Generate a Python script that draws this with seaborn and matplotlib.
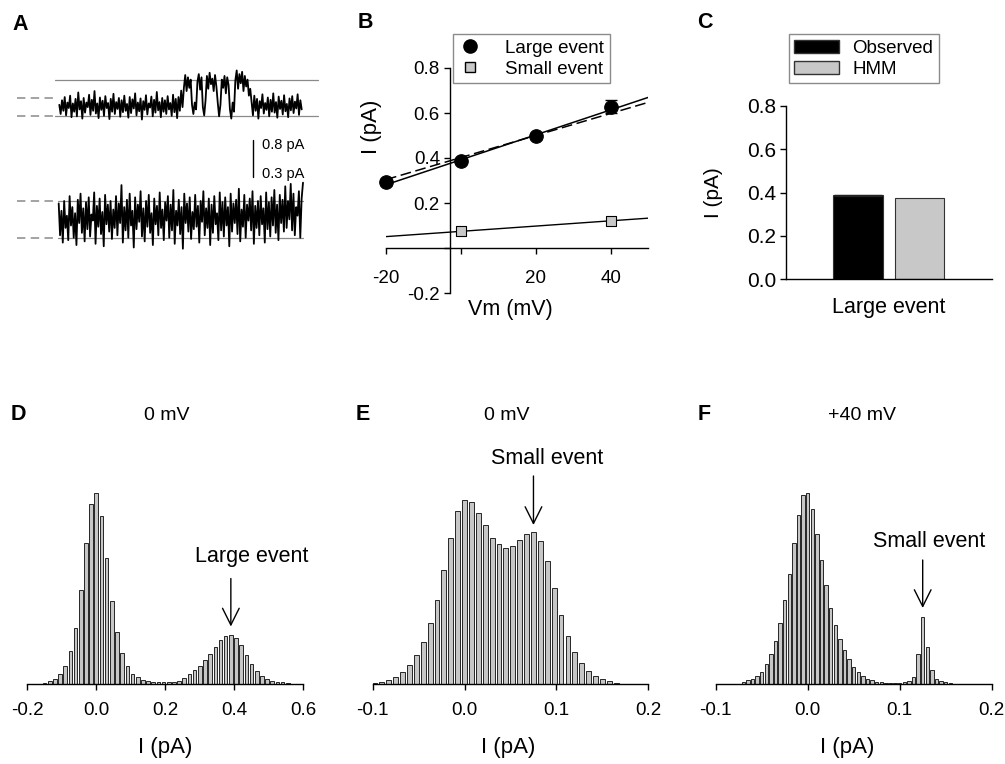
import numpy as np
import pandas as pd
import matplotlib
matplotlib.use("Agg")
import matplotlib.pyplot as plt
import seaborn as sns
from matplotlib.lines import Line2D
from matplotlib.patches import Patch

# ---------------- data ----------------
# Panel A: single-channel current traces (pA), one sample per value
trace_top = [
    0.25, 0.05, 0.35, 0.12, 0.42, 0.02, 0.30, 0.18, 0.45, -0.02, 0.28, 0.10, 0.38, 0.00, 0.52, 0.15, 0.33, -0.05, 0.40, 0.08,
    0.30, 0.20, 0.47, 0.03, 0.36, 0.12, 0.55, 0.06, 0.28, -0.04, 0.41, 0.14, 0.34, 0.01, 0.44, 0.18, 0.29, -0.06, 0.38, 0.10,
    0.49, 0.05, 0.31, 0.16, 0.40, -0.01, 0.35, 0.09, 0.45, 0.12, 0.27, -0.03, 0.42, 0.07, 0.37, 0.17, 0.50, 0.02, 0.30, 0.11,
    0.39, -0.07, 0.33, 0.14, 0.46, 0.04, 0.28, 0.19, 0.43, 0.00, 0.36, 0.08, 0.53, 0.13, 0.31, -0.02, 0.40, 0.10, 0.35, 0.05,
    0.44, 0.15, 0.29, 0.01, 0.47, 0.09, 0.38, -0.04, 0.42, 0.12, 0.56, 0.20, 0.62,
    0.90, 0.55, 0.85, 0.62, 0.80,
    0.25, 0.05, 0.30, 0.15,
    0.75, 0.92, 0.58, 0.85,
    0.20, 0.02, 0.35,
    0.88, 0.60, 0.95, 0.70, 0.82, 0.55, 0.90, 0.65,
    0.30, 0.00, 0.25,
    0.80, 0.62, 0.88, 0.50, 0.85, 0.68,
    0.15, -0.05, 0.30, 0.10,
    0.78, 1.00, 0.60, 0.92, 0.72, 0.97, 0.55, 0.88, 0.65, 0.80,
    0.45, 0.60,
    0.30, 0.02, 0.45, 0.12, 0.38, -0.05, 0.33, 0.18, 0.48, 0.06, 0.29, 0.14, 0.41, 0.00, 0.36, 0.10, 0.50, 0.08, 0.31, -0.03,
    0.43, 0.16, 0.34, 0.04, 0.46, 0.11, 0.27, -0.02, 0.39, 0.13, 0.44, 0.07, 0.32, 0.17, 0.48, 0.03, 0.35, 0.15,
]
trace_bottom = [
    0.28, 0.02, 0.22, -0.04, 0.30, 0.08, 0.18, -0.02, 0.34, 0.10, 0.25, 0.00, 0.20, -0.06, 0.31, 0.12, 0.36, 0.04, 0.24, -0.03,
    0.29, 0.07, 0.33, 0.01, 0.19, 0.14, 0.37, -0.05, 0.26, 0.09, 0.32, 0.03, 0.21, -0.07, 0.35, 0.11, 0.27, 0.05, 0.30, -0.01,
    0.23, 0.08, 0.34, 0.02, 0.28, 0.12, 0.43, -0.04, 0.25, 0.06, 0.31, 0.00, 0.36, 0.10, 0.22, -0.08, 0.33, 0.07, 0.27, 0.13,
    0.38, 0.01, 0.24, -0.03, 0.30, 0.09, 0.35, 0.04, 0.20, -0.06, 0.32, 0.11, 0.26, 0.02, 0.37, 0.08, 0.23, -0.02, 0.29, 0.14,
    0.34, 0.00, 0.27, 0.06, 0.39, -0.05, 0.22, 0.10, 0.31, 0.03, 0.25, -0.09, 0.36, 0.12, 0.28, 0.05, 0.33, -0.01, 0.21, 0.07,
    0.35, 0.09, 0.26, -0.04, 0.30, 0.13, 0.38, 0.02, 0.24, 0.08, 0.32, -0.06, 0.27, 0.04, 0.34, 0.11, 0.20, -0.02, 0.37, 0.06,
    0.29, 0.01, 0.33, 0.10, 0.25, -0.07, 0.36, 0.05, 0.28, 0.12, 0.31, 0.03, 0.40, -0.03, 0.23, 0.09, 0.35, 0.00, 0.27, 0.14,
    0.32, 0.06, 0.38, -0.05, 0.26, 0.08, 0.30, 0.02, 0.34, 0.11, 0.24, -0.04, 0.37, 0.07, 0.29, 0.01, 0.33, 0.10, 0.39, 0.04,
    0.27, -0.02, 0.35, 0.12, 0.31, 0.05, 0.42, 0.08, 0.30, 0.15, 0.44, 0.06, 0.36, 0.02, 0.25, 0.18, 0.38, 0.00, 0.32, 0.45,
]
top_levels = [0.0, 0.4, 0.8]
bottom_levels = [0.0, 0.3]
scale_labels = ["0.8 pA", "0.3 pA"]

# Panel B: I-V relation
vm_large = [-20, 0, 20, 40]
i_large = [0.292, 0.386, 0.496, 0.628]
sem_large = [0.010, 0.010, 0.012, 0.030]
vm_small = [0, 40]
i_small = [0.076, 0.120]
fit_range = [-20, 50]
fit_large_solid = (0.392, 0.00554)   # intercept, slope
fit_large_dashed = (0.402, 0.00490)
fit_small = (0.074, 0.00117)

# Panel C
c_groups = ["Observed", "HMM"]
c_category = "Large event"
c_values = [0.388, 0.375]
c_errors = [0.003, 0.0]

# Panels D-F: amplitude histograms (relative counts)
d_first_center, d_bin = -0.15, 0.015
d_counts = [1, 2.3, 5, 9.7, 17.7, 32.7, 56, 94, 141, 180,
            191, 168, 125.7, 83, 51.7, 30.3, 17.7, 10, 6.3, 4,
            2.3, 2, 1.7, 1.7, 1.7, 2, 3, 5.7, 9.7, 13.3,
            18, 23.7, 30, 37, 43.3, 47.3, 48.3, 46, 39, 29,
            19.5, 12.5, 8, 5, 3, 2, 1.3, 0.7]
e_first_center, e_bin = -0.0975, 0.0075
e_counts = [1, 2, 4, 7, 12, 19, 28.7, 42, 60.3, 84, 114, 145.7, 172.3,
            183.7, 181.3, 170.7, 158.3, 146, 139.3, 136, 137.7, 143.3, 149.3, 151.3,
            142.7, 122.7, 95.3, 69, 48, 31.7, 20.3, 13, 7.7, 4.3, 2.3, 1]
f_first_center, f_bin = -0.07, 0.005
f_counts = [2, 3.3, 5, 7.7, 11.7, 19.3, 29.3, 43, 61, 83.3, 110, 140.3, 168.7, 188.3,
            190.3, 175, 150, 123.3, 99, 76, 59, 44.3, 33.3, 24.3, 16.8, 11.5, 8, 5,
            3.3, 2, 1.3, 1, 1, 1, 1, 1.3, 2.3, 6.7, 29.7, 66.7, 36.3, 13.3, 5, 2.3, 1.3, 0.7]

hist_titles = ["0 mV", "0 mV", "+40 mV"]
hist_ticks = [[-0.2, 0.0, 0.2, 0.4, 0.6], [-0.1, 0.0, 0.1, 0.2], [-0.1, 0.0, 0.1, 0.2]]
hist_notes = ["Large event", "Small event", "Small event"]
hist_note_x = [0.39, 0.075, 0.125]

# ---------------- style ----------------
sns.set_style("white")
plt.rcParams["font.family"] = ["Liberation Sans", "DejaVu Sans"]
plt.rcParams["axes.unicode_minus"] = False
for k in ("text.color", "axes.labelcolor", "xtick.color", "ytick.color", "axes.edgecolor"):
    plt.rcParams[k] = "black"

W, H = 1005, 764
fig = plt.figure(figsize=(W / 100, H / 100), dpi=100)


def box(l, t, r, b):
    return fig.add_axes([l / W, 1 - b / H, (r - l) / W, (b - t) / H])


def ftext(x, y, s, **kw):
    fig.text(x / W, 1 - y / H, s, **kw)


GRAY_LINE = "#8a8a8a"

# ---------------- Panel A ----------------
def trace_axes(values, l, t, r, b, x0px, x1px, zero_px, pa_per_px, dash_end_px,
               dashed_levels, solid_levels, solid_end_px):
    ax = box(l, t, r, b)
    n = len(values)
    pps = (x1px - x0px) / (n - 1)
    ax.set_xlim((l - x0px) / pps, (r - x0px) / pps)
    ax.set_ylim(-(b - zero_px) * pa_per_px, (zero_px - t) * pa_per_px)
    xs = (dash_end_px - x0px) / pps
    xe = (solid_end_px - x0px) / pps
    x_left = (l + 3 - x0px) / pps
    for lv in dashed_levels:
        ax.plot([x_left, xs], [lv, lv], color=GRAY_LINE, lw=1.1, ls=(0, (5.5, 3.5)), zorder=1)
    for lv in solid_levels:
        ax.plot([xs, xe], [lv, lv], color=GRAY_LINE, lw=0.9, zorder=1)
    df = pd.DataFrame({"sample": np.arange(n), "I": values})
    sns.lineplot(data=df, x="sample", y="I", color="black", lw=1.3, ax=ax, zorder=2)
    ax.set_axis_off()
    return ax


trace_axes(trace_top, 14, 60, 322, 128, 59.3, 301.7, 116.3, 0.8 / 36.7, 55,
           [top_levels[0], top_levels[1]], [top_levels[0], top_levels[2]], 318)
trace_axes(trace_bottom, 14, 176, 322, 256, 58.7, 303.0, 237.7, 0.3 / 36.7, 58,
           bottom_levels, bottom_levels, 303)

axS = box(0, 0, W, H)
axS.set_xlim(0, W)
axS.set_ylim(H, 0)
axS.set_axis_off()
axS.plot([253, 253], [140, 176.7], color="black", lw=1)
axS.text(262, 144.5, scale_labels[0], fontsize=10.5, va="center", ha="left")
axS.text(262, 174, scale_labels[1], fontsize=10.5, va="center", ha="left")

# ---------------- Panel B ----------------
axB = box(386, 68, 648, 293)
fxr = np.array(fit_range, dtype=float)
sns.lineplot(x=fxr, y=fit_large_solid[0] + fit_large_solid[1] * fxr, color="black", lw=1.1, ax=axB, zorder=2)
sns.lineplot(x=fxr, y=fit_large_dashed[0] + fit_large_dashed[1] * fxr, color="black", lw=1.1,
             ls=(0, (7, 3)), ax=axB, zorder=2)
sns.lineplot(x=fxr, y=fit_small[0] + fit_small[1] * fxr, color="black", lw=1.0, ax=axB, zorder=2)
axB.errorbar(vm_large, i_large, yerr=sem_large, fmt="none", ecolor="black", elinewidth=1,
             capsize=4.5, capthick=1, zorder=3, clip_on=False)
sns.scatterplot(x=vm_large, y=i_large, marker="o", s=95, color="black", edgecolor="black",
                linewidth=0.8, ax=axB, zorder=4, clip_on=False)
sns.scatterplot(x=vm_small, y=i_small, marker="s", s=55, color="#c8c8c8", edgecolor="black",
                linewidth=0.8, ax=axB, zorder=4, clip_on=False)
axB.set_xlim(-20, 50)
axB.set_ylim(-0.2, 0.8)
axB.spines["left"].set_position(("data", -3))
axB.spines["bottom"].set_position(("data", 0))
axB.spines["top"].set_visible(False)
axB.spines["right"].set_visible(False)
for s in ("left", "bottom"):
    axB.spines[s].set_color("black")
    axB.spines[s].set_linewidth(1)
axB.set_xticks([-20, 0, 20, 40])
axB.set_xticklabels(["-20", "", "20", "40"])
axB.set_yticks([-0.2, 0.0, 0.2, 0.4, 0.6, 0.8])
axB.set_yticklabels(["-0.2", "", "0.2", "0.4", "0.6", "0.8"])
axB.tick_params(axis="x", direction="out", length=4, width=1, labelsize=13.5, pad=12, bottom=True)
axB.tick_params(axis="y", direction="out", length=4, width=1, labelsize=13.5, pad=3, left=True)
axB.set_xlabel("Vm (mV)", fontsize=15.5)
axB.set_ylabel("I (pA)", fontsize=16)
axB.xaxis.set_label_coords((510 - 386) / 262, -(310 - 293) / 225)
axB.xaxis.label.set_va("center")
axB.yaxis.set_label_coords(-(386 - 371.5) / 262, (293 - 127) / 225)
axB.yaxis.label.set_va("center")
legB = axB.legend(
    handles=[Line2D([], [], marker="o", ls="none", color="black", markersize=9.5),
             Line2D([], [], marker="s", ls="none", markerfacecolor="#c8c8c8",
                    markeredgecolor="black", markersize=7.5)],
    labels=["Large event", "Small event"],
    loc="upper left", bbox_to_anchor=(452.7 / W, 1 - 34 / H), bbox_transform=fig.transFigure,
    fontsize=13.5, frameon=True, fancybox=False, borderaxespad=0, borderpad=0.3,
    labelspacing=0.2, handlelength=1.2, handletextpad=1.3)
legB.get_frame().set_edgecolor("#6e6e6e")
legB.get_frame().set_linewidth(1)

# ---------------- Panel C ----------------
axC = box(786, 106, 992, 279.3)
dfC = pd.DataFrame({"cat": [c_category] * len(c_groups), "I": c_values, "grp": c_groups})
sns.barplot(data=dfC, x="cat", y="I", hue="grp", palette=["black", "#c8c8c8"],
            gap=0.2, width=0.8, ax=axC, legend=False, edgecolor="#333333", linewidth=0.8)
p0 = axC.patches[0]
axC.errorbar([p0.get_x() + p0.get_width() / 2], [c_values[0]], yerr=[c_errors[0]], fmt="none",
             ecolor="#222222", elinewidth=1, capsize=17, capthick=1, zorder=5)
axC.set_xlim(-0.668, 0.672)
axC.set_ylim(0, 0.8)
axC.set_yticks([0.0, 0.2, 0.4, 0.6, 0.8])
axC.set_yticklabels(["0.0", "0.2", "0.4", "0.6", "0.8"])
axC.spines["top"].set_visible(False)
axC.spines["right"].set_visible(False)
for s in ("left", "bottom"):
    axC.spines[s].set_color("black")
    axC.spines[s].set_linewidth(1)
axC.tick_params(axis="y", direction="out", length=4, width=1, labelsize=15, pad=3, left=True)
axC.tick_params(axis="x", length=0, labelsize=15.5, pad=13)
axC.set_xlabel("")
axC.set_ylabel("I (pA)", fontsize=15)
axC.yaxis.set_label_coords(-(786 - 713) / 206, 0.5)
axC.yaxis.label.set_va("center")
legC = axC.legend(
    handles=[Patch(facecolor="black", edgecolor="#333333"),
             Patch(facecolor="#c8c8c8", edgecolor="#333333")],
    labels=c_groups, loc="upper left", bbox_to_anchor=(788.7 / W, 1 - 34 / H),
    bbox_transform=fig.transFigure, fontsize=13.5, frameon=True, fancybox=False,
    borderaxespad=0, borderpad=0.3, labelspacing=0.2, handlelength=2.4,
    handleheight=0.72, handletextpad=0.7)
legC.get_frame().set_edgecolor("#6e6e6e")
legC.get_frame().set_linewidth(1)

# ---------------- Panels D-F ----------------
hist_boxes = [(27.3, 303.3), (372.7, 648.3), (715.7, 991.7)]
hist_xlims = [(-0.2, 0.6), (-0.1, 0.2), (-0.1, 0.2)]
hist_data = [(d_first_center, d_bin, d_counts), (e_first_center, e_bin, e_counts),
             (f_first_center, f_bin, f_counts)]
note_geom = [(57, 105, 0.451, 127), (158.5, 207.5, 0.0894, 225.5), (75.5, 123.5, 0.1318, 142)]
title_x = [166.7, 506.7, 861.7]
xlabel_x = [165, 508, 846.7]
letter_x = [18.5, 362.5, 704]
YTOP = 245.0
for i in range(3):
    l, r = hist_boxes[i]
    ax = box(l, 683.5 - YTOP, r, 683.5)
    c0, bw, counts = hist_data[i]
    centers = c0 + bw * np.arange(len(counts))
    edges = [float(c - bw / 2) for c in centers] + [float(centers[-1] + bw / 2)]
    dfh = pd.DataFrame({"I": centers, "count": counts})
    sns.histplot(data=dfh, x="I", weights="count", bins=edges, shrink=0.7, color="#c6c6c6",
                 edgecolor="#262626", linewidth=0.7, alpha=1, ax=ax)
    ax.set_xlim(*hist_xlims[i])
    ax.set_ylim(0, YTOP)
    for s in ("left", "top", "right"):
        ax.spines[s].set_visible(False)
    ax.spines["bottom"].set_color("black")
    ax.spines["bottom"].set_linewidth(1)
    ax.set_yticks([])
    ax.set_xticks(hist_ticks[i])
    ax.set_xticklabels([f"{t:.1f}" for t in hist_ticks[i]])
    ax.tick_params(axis="x", direction="out", length=4.5, width=1, labelsize=13.5, pad=8.5, bottom=True)
    ax.set_ylabel("")
    ax.set_xlabel("I (pA)", fontsize=16)
    ax.xaxis.set_label_coords((xlabel_x[i] - l) / (r - l), -(748 - 683.5) / YTOP)
    ax.xaxis.label.set_va("center")
    tip, tail, tx, ty = note_geom[i]
    ax.annotate("", xy=(hist_note_x[i], tip), xytext=(hist_note_x[i], tail),
                arrowprops=dict(arrowstyle="->,head_length=0.6,head_width=0.3", lw=1,
                                color="black", shrinkA=0, shrinkB=0, mutation_scale=20),
                annotation_clip=False)
    ax.text(tx, ty, hist_notes[i], fontsize=15.5, ha="center", va="center", clip_on=False)
    ftext(title_x[i], 415, hist_titles[i], fontsize=14, ha="center", va="center")
    ftext(letter_x[i], 414, "DEF"[i], fontsize=15.5, fontweight="bold", ha="center", va="center")

ftext(20, 25, "A", fontsize=15.5, fontweight="bold", ha="center", va="center")
ftext(365, 22, "B", fontsize=15.5, fontweight="bold", ha="center", va="center")
ftext(705, 23, "C", fontsize=15.5, fontweight="bold", ha="center", va="center")

fig.savefig("out.png", dpi=100)
